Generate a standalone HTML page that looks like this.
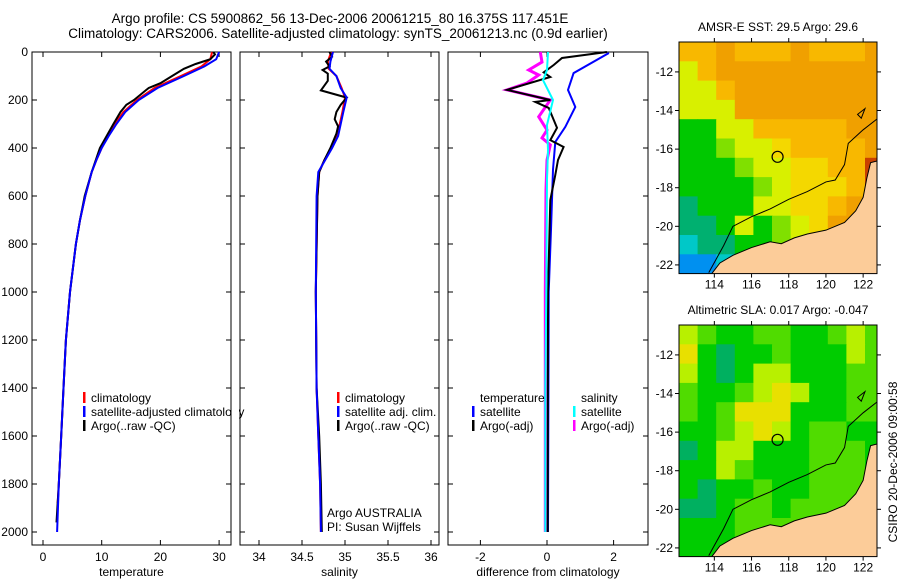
<!DOCTYPE html>
<html><head><meta charset="utf-8"><style>
body{margin:0;background:#fff;width:900px;height:580px;overflow:hidden}
svg{display:block;font-family:"Liberation Sans",sans-serif}
</style></head><body>
<svg id="fig" width="900" height="580" viewBox="0 0 900 580" xmlns="http://www.w3.org/2000/svg">
<rect width="900" height="580" fill="#fff"/>
<text x="340" y="23" font-size="13.5" text-anchor="middle">Argo profile: CS 5900862_56 13-Dec-2006 20061215_80 16.375S 117.451E</text>
<text x="338" y="38" font-size="13.5" text-anchor="middle">Climatology: CARS2006. Satellite-adjusted climatology: synTS_20061213.nc (0.9d earlier)</text>
<g id="g"></g>
</svg>
<script>
// ---- data ----
const depthTicks=[0,200,400,600,800,1000,1200,1400,1600,1800,2000];
const tempTicks=[0,10,20,30];
const salTicks=[34,34.5,35,35.5,36];
const diffTicks=[-2,0,2];
const tClimDepth=[0,30,60,100,150,200,250,300,350,400,450,500,600,700,800,1000,1200,1400,1600,1800,1880];
const tClim=[28.8,28.5,27,23.5,19,16,13.7,12.2,11,10,9.1,8.3,7.2,6.3,5.6,4.6,3.9,3.5,3.1,2.7,2.5];
const tSatDepth=[0,30,60,100,150,200,250,300,350,400,450,500,600,700,800,1000,1200,1400,1600,1800,2000];
const tSat=[30,29.5,27.5,24,19.5,16.3,14,12.5,11.2,10,9.1,8.3,7.2,6.3,5.6,4.6,3.9,3.5,3.1,2.7,2.4];
const tArgoDepth=[0,10,30,50,70,100,130,150,160,200,220,250,300,400,500,600,700,800,1000,1200,1400,1600,1800,1960];
const tArgo=[29,29.3,28.5,26,24,22,20,18,17.5,15.5,14.2,13.2,12,9.7,8.3,7.1,6.3,5.6,4.6,3.9,3.5,3.1,2.7,2.3];
const sClimDepth=[0,40,70,100,150,190,250,300,350,400,450,500,600,1000,1400,1600,1800,2000];
const sClim=[34.84,34.8,34.81,34.9,34.96,35.0,34.97,34.94,34.9,34.84,34.76,34.7,34.68,34.66,34.67,34.69,34.71,34.72];
const sSat=[34.86,34.83,34.82,34.9,34.95,35.02,34.98,34.95,34.92,34.85,34.77,34.69,34.67,34.66,34.67,34.69,34.71,34.72];
const sArgoDepth=[0,20,40,60,75,90,120,160,190,220,250,280,310,340,400,450,500,600,1000,1400,1600,1800,2000];
const sArgo=[34.82,34.85,34.78,34.82,34.74,34.8,34.8,34.72,35.02,34.95,34.9,34.88,34.92,34.9,34.83,34.76,34.7,34.68,34.66,34.67,34.7,34.72,34.73];
const dTSatDepth=[4,88,158,229,312,375,490,740,1000,2000];
const dTSat=[1.86,0.8,0.63,0.85,0.55,0.25,0.18,0.12,0.05,0.03];
const dTArgoDepth=[0,25,54,85,104,158,200,208,233,316,367,396,450,512,617,1000,2000];
const dTArgo=[1.8,0.45,0.2,-0.1,0.1,-1.2,0.1,-0.35,0.05,0.3,0.1,0.5,0.33,0.25,0.1,0.03,0.02];
const dSSatDepth=[0,75,117,200,304,408,533,1000,1400,2000];
const dSSat=[0.03,0,-0.12,0.18,0,0.03,0,-0.02,-0.05,-0.05];
const dSArgoDepth=[0,42,75,96,129,158,200,270,325,358,387,450,575,1000,2000];
const dSArgo=[-0.2,-0.15,-0.55,-0.25,-0.6,-1.2,0.1,-0.25,0,-0.15,0.1,0,-0.03,-0.05,-0.05];
const lonTicks=[114,116,118,120,122];
const latTicks=[12,14,16,18,20,22];
const sstGrid=["ooOoooOoooO","yoOOOOOOOOO","yyoOOOOOOOO","yyyOOOOOOOO","GGyyoooooOO","GGgyyYooooO","GGGgyyYYooR","GGGGgyYYYoR","TGGGyyYYoOR","TTGyGgyYOOR","CTTGGgyoOOR","BBCTGgyoOOR"];
const slaGrid=["LgGGggGGgLg","YGTGGgGGGLg","LGTGLLGGGgg","gGGgLYLGGgg","gGgYYYGGGgg","GGgLYLGggGG","TGLLGGGgggG","GGLgGGGgggG","GTGGgGGggggg","TTGggGgggggg","GGGgggggggg","GGGGgggggggg"];
const coastLon=[113.9,114.3,115,116,117,117.6,118.3,119,120,121,121.6,122,122.2,122.4,122.8];
const coastLat=[22.4,21.9,21.5,21.1,20.8,20.9,20.6,20.4,20.2,19.8,19.2,18.5,17.5,16.7,16.6];
const shelfLon=[113.7,114.5,115,116,117,118,119,120,120.5,121,121.2,122,122.8];
const shelfLat=[22.4,21,20,19.5,19.1,18.6,18.2,17.7,17.6,16.8,15.7,15,14.4];
const argoLon=117.4, argoLat=16.4;
// ---- drawing ----
const NS="http://www.w3.org/2000/svg";
const G=document.getElementById('g');
function mk(t,a,p){const e=document.createElementNS(NS,t);for(const k in a)e.setAttribute(k,a[k]);(p||G).appendChild(e);return e;}
const Y=d=>52+d*0.24;
const panels=[
 {x0:32,x1:231,f:v=>43+v*5.87,ticks:tempTicks,lab:"temperature",name:"temperature-panel"},
 {x0:240,x1:439,f:v=>259+(v-34)*86,ticks:salTicks,lab:"salinity",name:"salinity-panel"},
 {x0:448,x1:648,f:v=>547+v*33.3,ticks:diffTicks,lab:"difference from climatology",name:"difference-panel"}];
panels.forEach((p,i)=>{
 const r=mk('rect',{x:p.x0,y:52,width:p.x1-p.x0,height:493,fill:'none',stroke:'#000','stroke-width':1});
 
 
 p.ticks.forEach(t=>{const x=p.f(t);
  mk('line',{x1:x,x2:x,y1:545,y2:540,stroke:'#000'});mk('line',{x1:x,x2:x,y1:52,y2:57,stroke:'#000'});
  const tx=mk('text',{x:x,y:561,'font-size':12,'text-anchor':'middle'});tx.textContent=t;
  
  });
 const xl=mk('text',{x:(p.x0+p.x1)/2,y:576,'font-size':12,'text-anchor':'middle'});xl.textContent=p.lab;
 
 
 depthTicks.forEach(d=>{const y=Y(d);
  mk('line',{x1:p.x0,x2:p.x0+5,y1:y,y2:y,stroke:'#000'});mk('line',{x1:p.x1,x2:p.x1-5,y1:y,y2:y,stroke:'#000'});
  if(i==0){const t=mk('text',{x:28,y:y+4,'font-size':12,'text-anchor':'end'});t.textContent=d;
   
   }});
});
function line(p,ds,vs,col,w,name){const pts=ds.map((d,k)=>p.f(vs[k]).toFixed(1)+','+Y(d).toFixed(1)).join(' ');
 const e=mk('polyline',{points:pts,fill:'none',stroke:col,'stroke-width':w});
 
 }
line(panels[0],tClimDepth,tClim,'#f00',2,'temp-climatology-line');
line(panels[0],tArgoDepth,tArgo,'#000',2,'temp-argo-line');
line(panels[0],tSatDepth,tSat,'#00f',2,'temp-satellite-line');
line(panels[1],sClimDepth,sClim,'#f00',2,'sal-climatology-line');
line(panels[1],sArgoDepth,sArgo,'#000',2,'sal-argo-line');
line(panels[1],sClimDepth,sSat,'#00f',2,'sal-satellite-line');
line(panels[2],dTSatDepth,dTSat,'#00f',2,'diff-temp-satellite-line');
line(panels[2],dSArgoDepth,dSArgo,'#f0f',3,'diff-sal-argo-line');
line(panels[2],dTArgoDepth,dTArgo,'#000',2,'diff-temp-argo-line');
line(panels[2],dSSatDepth,dSSat,'#0ff',2,'diff-sal-satellite-line');
function leg(x,y,col,txt,name){if(col)mk('rect',{x:x,y:y-10,width:2.5,height:11,fill:col});
 const t=mk('text',{x:x+8,y:y,'font-size':12});t.textContent=txt;
 
 }
leg(83,402,'#f00','climatology','legend-climatology');
leg(83,416,'#00f','satellite-adjusted climatology','legend-satellite-adjusted');
leg(83,430,'#000','Argo(..raw -QC)','legend-argo');
mk('rect',{x:232,y:390,width:7,height:50,fill:'#fff'});
leg(337,402,'#f00','climatology','legend-sal-climatology');
leg(337,416,'#00f','satellite adj. clim.','legend-sal-satellite');
leg(337,430,'#000','Argo(..raw -QC)','legend-sal-argo');
leg(472,402,null,'temperature','legend-temp-header');
leg(472,416,'#00f','satellite','legend-diff-temp-satellite');
leg(472,430,'#000','Argo(-adj)','legend-diff-temp-argo');
leg(573,402,null,'salinity','legend-sal-header');
leg(573,416,'#0ff','satellite','legend-diff-sal-satellite');
leg(573,430,'#f0f','Argo(-adj)','legend-diff-sal-argo');
leg(319,517,null,'Argo AUSTRALIA','argo-australia-label');
leg(319,531,null,'PI: Susan Wijffels','pi-label');
// maps
const sstCol={O:'#f0a000',o:'#f8b800',Y:'#f4d800',y:'#d8f000',g:'#80e000',G:'#00c800',T:'#00b070',C:'#00c8c8',B:'#0090f0',R:'#c84000'};
const slaCol={G:'#00cc00',g:'#50dc00',L:'#b8f000',Y:'#e8e000',T:'#00b060'};
function map(top,grid,cols,title,name){
 const MX=lon=>679+(lon-112.1)*18.6, MY=lat=>top+(lat-10.45)*19.3;
 const bottom=MY(22.45);
 const cp='clip'+name;const c=mk('clipPath',{id:cp});mk('rect',{x:679,y:top,width:198,height:bottom-top},c);
 const g=mk('g',{'clip-path':'url(#'+cp+')'});
 
 
 grid.forEach((row,r)=>{for(let k=0;k<row.length;k++){
  mk('rect',{x:MX(112.1+k),y:MY(10.45+r),width:19.2,height:19.8,fill:cols[row[k]]},g);}});
 let pts=coastLon.map((l,k)=>MX(l)+','+MY(coastLat[k])).join(' ')+' '+MX(123)+','+MY(23)+' '+MX(113.5)+','+MY(23);
 mk('polygon',{points:pts,fill:'#fccc99',stroke:'#000','stroke-width':1},g);
 mk('polyline',{points:shelfLon.map((l,k)=>MX(l)+','+MY(shelfLat[k])).join(' '),fill:'none',stroke:'#000','stroke-width':1},g);
 mk('polygon',{points:`${MX(121.9)},${MY(14.4)} ${MX(122.1)},${MY(13.9)} ${MX(121.7)},${MY(14.2)}`,fill:'none',stroke:'#000'},g);
 const ci=mk('circle',{cx:MX(argoLon),cy:MY(argoLat),r:5.5,fill:'none',stroke:'#000','stroke-width':1.2},g);
 
 
 mk('rect',{x:679,y:top,width:198,height:bottom-top,fill:'none',stroke:'#000'});
 lonTicks.forEach(l=>{const x=MX(l);mk('line',{x1:x,x2:x,y1:bottom,y2:bottom+4,stroke:'#000'});mk('line',{x1:x,x2:x,y1:top,y2:top-4,stroke:'#000'});
  const t=mk('text',{x:x,y:bottom+15,'font-size':12,'text-anchor':'middle'});t.textContent=l;
  
  });
 latTicks.forEach(l=>{const y=MY(l);mk('line',{x1:679,x2:675,y1:y,y2:y,stroke:'#000'});mk('line',{x1:877,x2:881,y1:y,y2:y,stroke:'#000'});
  const t=mk('text',{x:673,y:y+4,'font-size':12,'text-anchor':'end'});t.textContent='-'+l;
  
  });
 const tt=mk('text',{x:778,y:top-11,'font-size':12,'text-anchor':'middle'});tt.textContent=title;
 
 
}
map(42,sstGrid,sstCol,'AMSR-E SST: 29.5 Argo: 29.6','sst');
map(325,slaGrid,slaCol,'Altimetric SLA: 0.017 Argo: -0.047','sla');
const st=mk('text',{x:897,y:462,'font-size':12,'text-anchor':'middle',transform:'rotate(-90 897 462)'});
st.textContent='CSIRO 20-Dec-2006 09:00:58';


</script>
</body></html>
